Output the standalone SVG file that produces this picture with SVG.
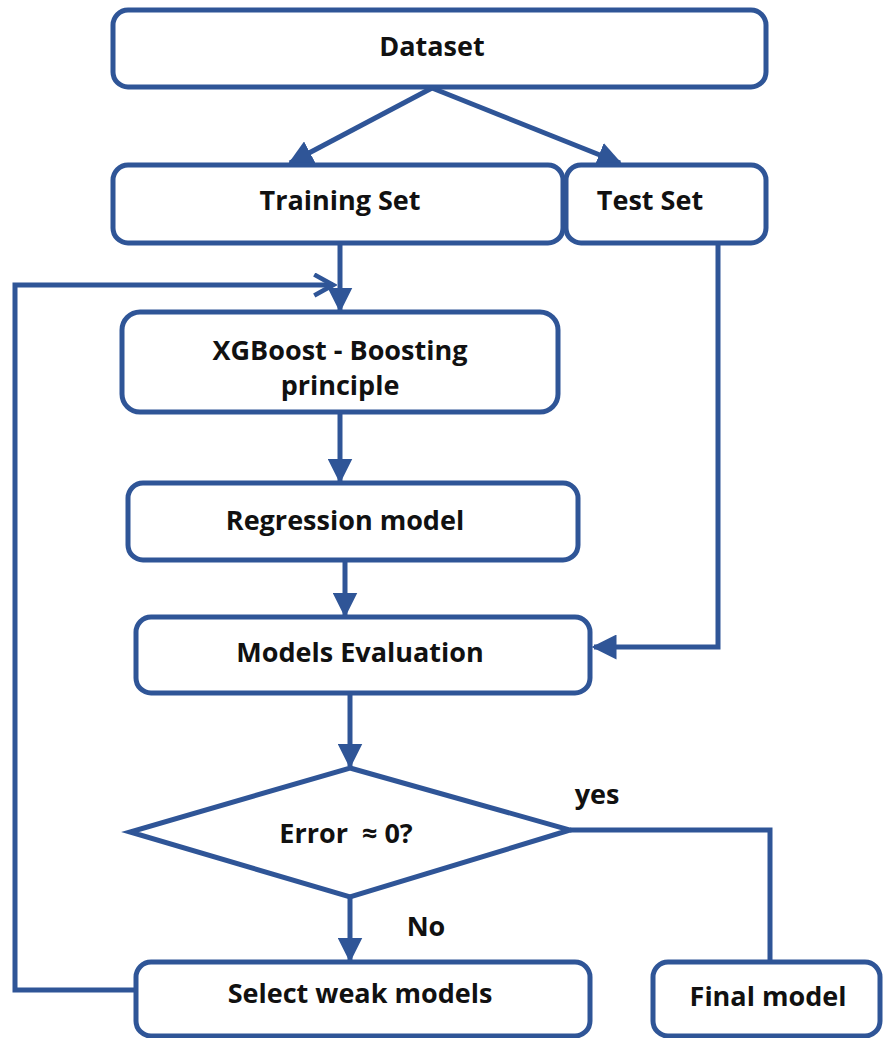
<svg xmlns="http://www.w3.org/2000/svg" width="884" height="1038" viewBox="0 0 884 1038">
  <style>
    .box { fill: #ffffff; stroke: #2f5597; stroke-width: 5; }
    .conn { fill: none; stroke: #2f5597; stroke-width: 5; stroke-linejoin: miter; }
    .lbl { font-family: "Open Sans", "Liberation Sans", sans-serif; font-weight: bold; font-size: 27px; fill: #111111; text-anchor: middle; dominant-baseline: central; }
  </style>
  <defs>
    <marker id="tri" viewBox="0 0 10 10" refX="9" refY="5" markerWidth="5" markerHeight="5" markerUnits="strokeWidth" orient="auto">
      <path d="M0,0 L10,5 L0,10 z" fill="#2f5597"/>
    </marker>
    <marker id="open" viewBox="0 0 12 12" refX="10" refY="6" markerWidth="5" markerHeight="5" markerUnits="strokeWidth" orient="auto">
      <path d="M1,1 L10,6 L1,11" fill="none" stroke="#2f5597" stroke-width="2.2"/>
    </marker>
  </defs>

  <rect width="884" height="1038" fill="#ffffff"/>

  <!-- connectors -->
  <g id="connectors">
    <line class="conn" x1="432" y1="88" x2="290" y2="163" marker-end="url(#tri)"/>
    <line class="conn" x1="432" y1="88" x2="620" y2="163" marker-end="url(#tri)"/>
    <line class="conn" x1="340" y1="243" x2="340" y2="310" marker-end="url(#tri)"/>
    <polyline class="conn" points="136,990 15,990 15,285 333,285" marker-end="url(#open)"/>
    <line class="conn" x1="340" y1="412" x2="340" y2="481" marker-end="url(#tri)"/>
    <line class="conn" x1="345" y1="560" x2="345" y2="615" marker-end="url(#tri)"/>
    <polyline class="conn" points="718,243 718,647 594,647" marker-end="url(#tri)"/>
    <line class="conn" x1="350" y1="693" x2="350" y2="766" marker-end="url(#tri)"/>
    <polyline class="conn" points="570,830 770,830 770,962"/>
    <line class="conn" x1="350" y1="897" x2="350" y2="960" marker-end="url(#tri)"/>
    <text class="lbl" x="597" y="793">yes</text>
    <text class="lbl" x="426" y="925">No</text>
  </g>

  <g id="dataset">
    <rect class="box" x="113" y="10" width="653" height="77" rx="15"/>
    <text class="lbl" x="432" y="45">Dataset</text>
  </g>

  <g id="training-set">
    <rect class="box" x="113" y="165" width="450" height="78" rx="15"/>
    <text class="lbl" x="340" y="199">Training Set</text>
  </g>

  <g id="test-set">
    <rect class="box" x="566" y="165" width="200" height="78" rx="15"/>
    <text class="lbl" x="650" y="199">Test Set</text>
  </g>

  <g id="xgboost">
    <rect class="box" x="122" y="312" width="436" height="100" rx="18"/>
    <text class="lbl" x="340" y="349">XGBoost - Boosting</text>
    <text class="lbl" x="340" y="384">principle</text>
  </g>

  <g id="regression">
    <rect class="box" x="128" y="483" width="450" height="77" rx="15"/>
    <text class="lbl" x="345" y="519">Regression model</text>
  </g>

  <g id="evaluation">
    <rect class="box" x="136" y="617" width="454" height="76" rx="15"/>
    <text class="lbl" x="360" y="651">Models Evaluation</text>
  </g>

  <g id="error-check">
    <polygon class="box" points="350,768 570,830 350,897 130,832"/>
    <text class="lbl" x="346" y="832" style="white-space: pre">Error  ≈ 0?</text>
  </g>

  <g id="select-weak">
    <rect class="box" x="136" y="962" width="454" height="74" rx="15"/>
    <text class="lbl" x="360" y="992">Select weak models</text>
  </g>

  <g id="final-model">
    <rect class="box" x="653" y="962" width="227" height="74" rx="15"/>
    <text class="lbl" x="768" y="995">Final model</text>
  </g>
</svg>
